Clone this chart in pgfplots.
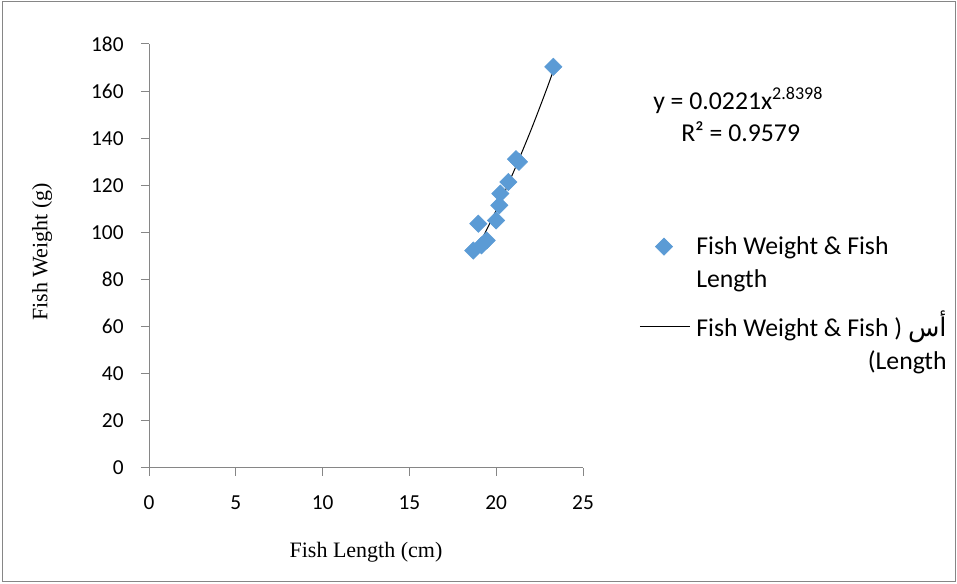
\documentclass[border=0pt]{standalone}
\usepackage{pgfplots}
\pgfplotsset{compat=1.18}
\usepackage{fontspec}
\setmainfont{Carlito}
\newfontfamily\seriffont{Liberation Serif}
\newfontfamily\arabicfont[Script=Arabic]{DejaVu Sans}
\TeXXeTstate=1
\definecolor{ptblue}{HTML}{5B9BD5}
\definecolor{axgray}{HTML}{868686}
\begin{document}
\begin{tikzpicture}[x=0.75pt,y=0.75pt]
\useasboundingbox (0,0) rectangle (957,584);
\draw[axgray,line width=0.75pt] (2,2) rectangle (955,582);
\begin{axis}[
  at={(111.75pt,87.0pt)}, anchor=south west,
  scale only axis, width=325.5pt, height=318pt,
  xmin=0, xmax=25, ymin=0, ymax=180,
  xtick={0,5,...,25}, ytick={0,20,...,180},
  axis x line*=bottom, axis y line*=left,
  axis line style={axgray, line width=0.75pt},
  tick style={axgray, line width=0.75pt},
  tick align=outside, major tick length=6pt,
  /pgf/number format/assume math mode=true,
  tick label style={font=\fontsize{16}{18}\selectfont, text=black},
  yticklabel style={xshift=-9.5pt},
  xticklabel style={yshift=-11pt},
  xlabel={Fish Length (cm)}, ylabel={Fish Weight (g)},
  label style={font=\seriffont\fontsize{16.5}{20}\selectfont},
  xlabel style={at={(axis description cs:0.5,0)}, anchor=center, yshift=-63pt},
  ylabel style={at={(axis description cs:-0.2465,0.51)}, anchor=center},
  clip=false,
  legend style={at={(1.129,0.558)}, anchor=north west, draw=none, fill=none,
    inner sep=0pt, row sep=27.75pt, column sep=4.5pt,
    nodes={inner sep=0pt}, font=\fontsize{19.3}{24.75}\selectfont},
  legend cell align=left,
]
\addplot[only marks, mark=square*, mark size=4.6pt, mark options={rotate=45, fill=ptblue, draw=ptblue},
  legend image code/.code={\draw[mark options={rotate=45, fill=ptblue, draw=ptblue}] plot coordinates {(0.64cm,4.5pt)};}]
coordinates {
(18.68,92.3) (19.15,94.5) (18.97,103.7) (19.45,96.6) (19.99,105.1)
(20.18,111.5) (20.24,116.5) (20.70,121.4) (21.14,131.1) (21.31,130.0) (23.29,170.3)
};
\addlegendentry{\begin{tabular}{@{}l@{}}Fish Weight \& Fish\\Length\end{tabular}}
\addplot[black, line width=0.75pt, smooth,
  legend image code/.code={\draw[black,line width=0.75pt] (0cm,4.5pt) -- (1.32cm,4.5pt);}]
coordinates {
(18.68,90.2) (19.0,94.6) (19.5,101.9) (20.0,109.4) (20.5,117.4) (21.0,125.7)
(21.5,134.4) (22.0,143.4) (22.5,152.9) (23.0,162.7) (23.29,168.7)
};
\addlegendentry{\begin{tabular}{@{}r@{}}Fish Weight \& Fish ) {\arabicfont\beginR أس\endR}\\(Length\end{tabular}}
\end{axis}
\node[anchor=base west, inner sep=0pt, font=\fontsize{19.3}{22}\selectfont] at (653,474) {y = 0.0221x\textsuperscript{2.8398}};
\node[anchor=base west, inner sep=0pt, font=\fontsize{19.3}{22}\selectfont] at (681,442.3) {R² = 0.9579};
\end{tikzpicture}
\end{document}
